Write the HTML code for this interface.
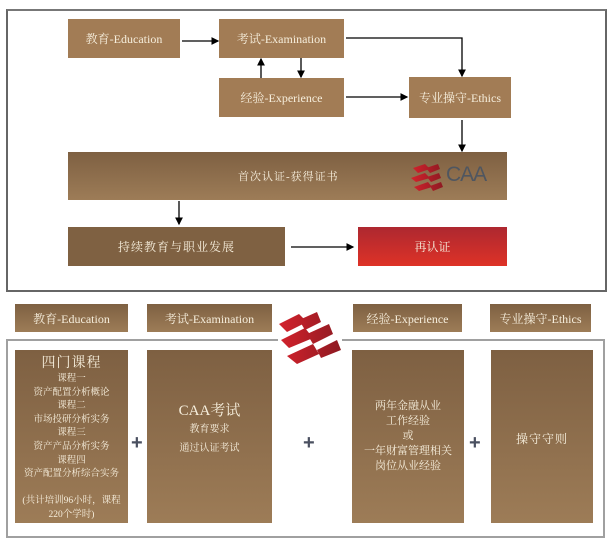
<!DOCTYPE html>
<html><head><meta charset="utf-8"><style>
body{margin:0;width:611px;height:545px;background:#fff;position:relative;overflow:hidden;font-family:"Liberation Serif","Noto Serif CJK SC",serif;color:#f6eedc}
.b{position:absolute;display:flex;align-items:center;justify-content:center;text-align:center}
.s{background:#a27c55}
.g{background:linear-gradient(#7e6042,#9d7c57)}
.f{font-size:12px}
svg{position:absolute;left:0;top:0}
.p{position:absolute;font-family:"Liberation Sans",sans-serif;font-size:20px;color:#4a5060;font-weight:bold}
</style></head><body>
<div style="position:absolute;left:6px;top:9px;width:597px;height:279px;border:2px solid #666;border-top-color:#777"></div>
<div class="b s f" style="left:68px;top:19px;width:112px;height:39px">教育-Education</div>
<div class="b s f" style="left:219px;top:19px;width:125px;height:39px">考试-Examination</div>
<div class="b s f" style="left:219px;top:78px;width:125px;height:39px">经验-Experience</div>
<div class="b s f" style="left:409px;top:77px;width:102px;height:41px">专业操守-Ethics</div>
<div class="b g" style="left:68px;top:152px;width:439px;height:48px;font-size:11px;letter-spacing:1px;justify-content:flex-start"><span style="position:absolute;left:170px">首次认证-获得证书</span>
<span style="position:absolute;left:378px;top:11px;font-family:'Liberation Sans',sans-serif;font-size:21px;letter-spacing:-1px;color:#4f5660">CAA</span></div>
<div class="b" style="left:68px;top:227px;width:217px;height:39px;background:#7f6142;font-size:12px;letter-spacing:1px">持续教育与职业发展</div>
<div class="b" style="left:358px;top:227px;width:149px;height:39px;background:linear-gradient(#ad2830,#de3227);font-size:12px">再认证</div>
<svg width="611" height="545">
<defs><marker id="a" markerWidth="6" markerHeight="6" refX="5" refY="3" orient="auto"><path d="M0,0 L6,3 L0,6z" fill="#000"/></marker>
<linearGradient id="r" x1="0" x2="1"><stop offset="0" stop-color="#d3222c"/><stop offset="1" stop-color="#8e1a22"/></linearGradient></defs>
<g stroke="#000" stroke-width="1.3" fill="none" marker-end="url(#a)">
<line x1="182" y1="41" x2="218" y2="41"/>
<polyline points="346,38 462,38 462,76"/>
<line x1="261" y1="78" x2="261" y2="59"/>
<line x1="301" y1="58" x2="301" y2="77"/>
<line x1="346" y1="97" x2="407" y2="97"/>
<line x1="462" y1="120" x2="462" y2="151"/>
<line x1="179" y1="201" x2="179" y2="224"/>
<line x1="291" y1="247" x2="353" y2="247"/>
</g>
<g fill="url(#r)" transform="translate(408,164) scale(0.5)">
<path d="M10,8 L34,0 L44,10 L20,18z M36,8 L60,0 L64,10 L44,18z M6,28 L34,18 L44,28 L16,36z M38,26 L62,18 L66,28 L46,36z M12,46 L40,36 L48,46 L22,54z M44,44 L66,36 L70,46 L50,54z"/>
</g>
<polyline points="278,340 7,340 7,537 604,537 604,340 342,340" fill="none" stroke="#a0a0a0" stroke-width="2"/>
<g fill="url(#r)" transform="translate(277,310)">
<path d="M2,14 L22,4 L30,12 L10,22z M22,10 L40,2 L44,12 L28,20z M4,30 L28,18 L36,28 L12,38z M30,24 L52,14 L56,24 L36,34z M10,46 L36,34 L42,44 L20,54z M40,40 L60,30 L64,40 L44,48z"/>
</g>
</svg>
<div class="b g f" style="left:15px;top:304px;width:113px;height:28px">教育-Education</div>
<div class="b g f" style="left:147px;top:304px;width:125px;height:28px">考试-Examination</div>
<div class="b g f" style="left:353px;top:304px;width:109px;height:28px">经验-Experience</div>
<div class="b g f" style="left:490px;top:304px;width:101px;height:28px">专业操守-Ethics</div>
<div class="g" style="position:absolute;left:15px;top:350px;width:113px;height:173px;text-align:center;font-size:9.5px;line-height:13.6px">
<div style="font-size:14px;line-height:18px;margin-top:5px;letter-spacing:1px">四门课程</div>
课程一<br>资产配置分析概论<br>课程二<br>市场投研分析实务<br>课程三<br>资产产品分析实务<br>课程四<br>资产配置分析综合实务<br><br>(共计培训96小时，课程<br>220个学时)</div>
<div class="g" style="position:absolute;left:147px;top:350px;width:125px;height:173px;text-align:center;font-size:10px;line-height:19px">
<div style="margin-top:52px;font-size:15px;line-height:18px">CAA考试</div>教育要求<br>通过认证考试</div>
<div class="b g" style="left:352px;top:350px;width:112px;height:173px;font-size:11px;line-height:15px">两年金融从业<br>工作经验<br>或<br>一年财富管理相关<br>岗位从业经验</div>
<div class="g" style="position:absolute;left:491px;top:350px;width:102px;height:173px;text-align:center;font-size:12px;line-height:14px"><div style="margin-top:82px;letter-spacing:1px">操守守则</div></div>
<div class="p" style="left:131px;top:432px">+</div>
<div class="p" style="left:303px;top:432px">+</div>
<div class="p" style="left:469px;top:432px">+</div>
</body></html>
